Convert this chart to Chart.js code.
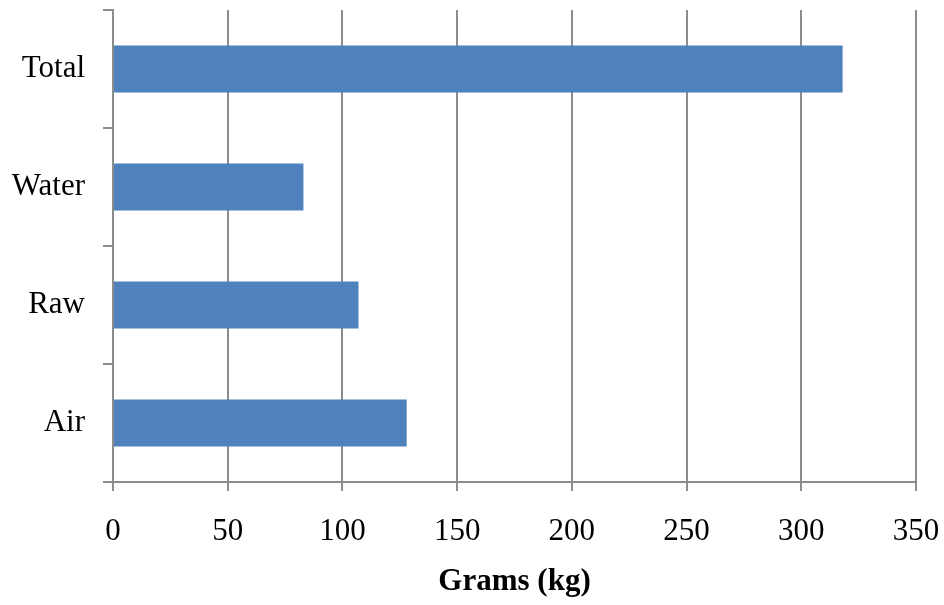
<!DOCTYPE html>
<html>
<head>
<meta charset="utf-8">
<script src="https://cdn.jsdelivr.net/npm/chart.js@4/dist/chart.umd.min.js"></script>
<style>
  html, body { margin: 0; padding: 0; background: #fff; }
  #wrap { width: 944px; height: 605px; }
</style>
</head>
<body>
<div id="wrap"><canvas id="chart" width="944" height="605"></canvas></div>
<script>
// categories top to bottom, and their values in kg
const categories = ["Total", "Water", "Raw", "Air"];
const grams = [318, 83, 107, 128];
const xTicks = [0, 50, 100, 150, 200, 250, 300, 350];
const axisTitle = "Grams (kg)";

const serif = "'Liberation Serif', 'Times New Roman', serif";
const gridGray = "#8c8c8c";

new Chart(document.getElementById("chart"), {
  type: "bar",
  data: {
    labels: categories,
    datasets: [
      {
        data: grams,
        backgroundColor: "#4f81bd",
        borderWidth: 0,
        categoryPercentage: 1,
        barPercentage: 0.4,
      },
    ],
  },
  options: {
    indexAxis: "y",
    responsive: false,
    animation: false,
    layout: { padding: { top: 10, right: 28, left: 0, bottom: 0 } },
    plugins: { legend: { display: false }, tooltip: { enabled: false } },
    scales: {
      x: {
        min: 0,
        max: 350,
        afterBuildTicks: (s) => { s.ticks = xTicks.map((v) => ({ value: v })); },
        afterFit: (s) => {
          s.height = 123;
          // labels may spill into the side margins
          s.paddingLeft = 0;
          s.paddingRight = 0;
        },
        grid: { color: gridGray, lineWidth: 2, tickLength: 9 },
        border: { color: gridGray, width: 2 },
        ticks: { color: "#000", padding: 22, font: { family: serif, size: 31 } },
        title: {
          display: true,
          text: axisTitle,
          color: "#000",
          padding: { top: 15 },
          font: { family: serif, size: 31, weight: "bold" },
        },
      },
      y: {
        afterFit: (s) => {
          s.width = 113;
          s.paddingTop = 0;
          s.paddingBottom = 0;
        },
        grid: { display: true, drawOnChartArea: false, offset: true, color: gridGray, lineWidth: 2, tickLength: 10 },
        border: { color: gridGray, width: 2 },
        ticks: { color: "#000", padding: 18, font: { family: serif, size: 31 } },
      },
    },
  },
});
</script>
</body>
</html>
